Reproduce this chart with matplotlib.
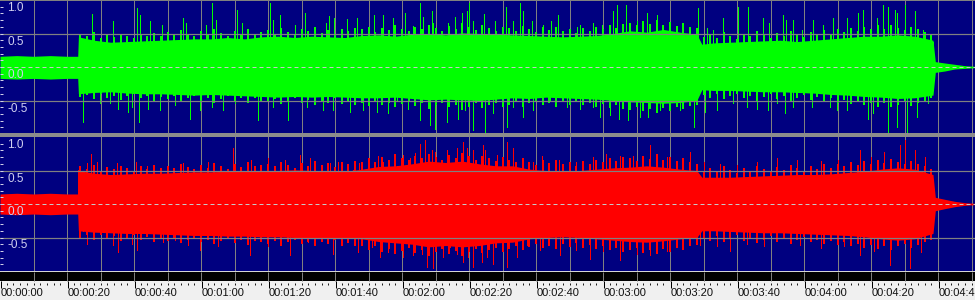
import matplotlib
matplotlib.use("Agg")
import matplotlib.pyplot as plt
import numpy as np

# ---- data (seconds / normalised amplitude) ----
body_t = [0, 5, 10, 15, 20, 23.2, 23.4, 28, 33, 38, 43, 48, 53, 58, 63, 68, 73, 78, 83, 88,
          93, 98, 103, 108, 113, 118, 123, 128, 133, 138, 143, 148, 153, 158, 163, 168, 173,
          178, 183, 188, 193, 198, 203, 208, 209.5, 213, 218, 223, 228, 233, 238, 243, 248,
          253, 258, 263, 268, 273, 278.5, 279.2, 282, 285, 288, 291]

left_top = [0.16, 0.17, 0.16, 0.17, 0.16, 0.16, 0.45, 0.40, 0.37, 0.38, 0.39, 0.40, 0.41, 0.42,
            0.42, 0.44, 0.42, 0.45, 0.46, 0.44, 0.46, 0.45, 0.44, 0.47, 0.48, 0.46, 0.49, 0.50,
            0.48, 0.51, 0.50, 0.49, 0.48, 0.47, 0.46, 0.45, 0.46, 0.47, 0.50, 0.54, 0.52, 0.56,
            0.52, 0.49, 0.34, 0.36, 0.37, 0.38, 0.39, 0.40, 0.38, 0.40, 0.42, 0.44, 0.46, 0.46,
            0.48, 0.46, 0.40, 0.08, 0.06, 0.04, 0.02, 0.01]
left_bot = [-0.17, -0.18, -0.17, -0.18, -0.17, -0.17, -0.40, -0.38, -0.37, -0.39, -0.40, -0.40,
            -0.41, -0.42, -0.41, -0.42, -0.43, -0.44, -0.45, -0.44, -0.45, -0.44, -0.45, -0.46,
            -0.46, -0.45, -0.47, -0.49, -0.48, -0.49, -0.50, -0.48, -0.46, -0.47, -0.45, -0.46,
            -0.47, -0.48, -0.50, -0.52, -0.53, -0.54, -0.53, -0.50, -0.34, -0.35, -0.35, -0.36,
            -0.37, -0.37, -0.38, -0.39, -0.41, -0.42, -0.44, -0.45, -0.47, -0.46, -0.42, -0.08,
            -0.06, -0.03, -0.02, -0.01]

right_top = [0.15, 0.16, 0.15, 0.16, 0.15, 0.15, 0.50, 0.46, 0.44, 0.45, 0.46, 0.46, 0.47, 0.48,
             0.48, 0.49, 0.49, 0.50, 0.50, 0.51, 0.50, 0.49, 0.49, 0.52, 0.56, 0.57, 0.60, 0.64,
             0.62, 0.64, 0.60, 0.57, 0.57, 0.52, 0.50, 0.49, 0.50, 0.52, 0.54, 0.55, 0.57, 0.55,
             0.52, 0.50, 0.40, 0.40, 0.40, 0.41, 0.42, 0.43, 0.44, 0.44, 0.45, 0.47, 0.49, 0.52,
             0.54, 0.52, 0.44, 0.10, 0.07, 0.04, 0.02, 0.01]
right_bot = [-0.15, -0.16, -0.15, -0.16, -0.15, -0.15, -0.40, -0.42, -0.43, -0.44, -0.44, -0.45,
             -0.46, -0.47, -0.47, -0.48, -0.48, -0.49, -0.49, -0.50, -0.50, -0.50, -0.51, -0.52,
             -0.56, -0.58, -0.60, -0.64, -0.62, -0.64, -0.62, -0.58, -0.57, -0.52, -0.50, -0.49,
             -0.50, -0.52, -0.54, -0.56, -0.57, -0.55, -0.52, -0.50, -0.40, -0.40, -0.41, -0.42,
             -0.43, -0.43, -0.44, -0.45, -0.46, -0.47, -0.49, -0.52, -0.54, -0.52, -0.44, -0.10,
             -0.07, -0.04, -0.02, -0.01]

# column heights just above the dense body, every 2 s from 0:24 to 4:38
col_t = list(range(24, 279, 2))
left_col_up = [0.50, 0.46, 0.52, 0.44, 0.48, 0.45, 0.50, 0.47, 0.43, 0.49, 0.46, 0.51, 0.47,
               0.52, 0.48, 0.55, 0.50, 0.46, 0.53, 0.49, 0.56, 0.51, 0.47, 0.54, 0.50, 0.57, 0.49, 0.52,
               0.55, 0.50, 0.58, 0.52, 0.48, 0.56, 0.53, 0.60, 0.51, 0.55, 0.49, 0.57, 0.54, 0.58,
               0.56, 0.60, 0.52, 0.58, 0.55, 0.62, 0.57, 0.53, 0.60, 0.56, 0.63, 0.58, 0.54, 0.61, 0.57,
               0.65, 0.60, 0.55, 0.62, 0.58, 0.54, 0.60,
               0.58, 0.54, 0.61, 0.56, 0.52, 0.59, 0.55, 0.60, 0.53, 0.57, 0.51, 0.58, 0.54, 0.60, 0.56,
               0.62, 0.58, 0.64,
               0.66, 0.62, 0.68, 0.64, 0.70, 0.63, 0.67, 0.61, 0.65, 0.60, 0.58,
               0.45, 0.50, 0.44, 0.52, 0.47, 0.42, 0.50, 0.46, 0.53, 0.48, 0.44, 0.51, 0.47, 0.54, 0.49,
               0.45, 0.52, 0.48, 0.55, 0.50,
               0.56, 0.52, 0.58, 0.54, 0.60, 0.56, 0.62, 0.57, 0.63, 0.58, 0.55, 0.60, 0.56, 0.52, 0.48]
left_col_dn = [-0.45, -0.42, -0.48, -0.40, -0.46, -0.43, -0.49, -0.44, -0.41, -0.47, -0.43, -0.50, -0.45,
               -0.48, -0.44, -0.51, -0.46, -0.43, -0.50, -0.47, -0.53, -0.48, -0.44, -0.51, -0.46, -0.54,
               -0.47, -0.50,
               -0.52, -0.48, -0.55, -0.50, -0.46, -0.53, -0.49, -0.56, -0.50, -0.53, -0.47, -0.55, -0.51, -0.56,
               -0.54, -0.58, -0.51, -0.56, -0.53, -0.60, -0.55, -0.52, -0.58, -0.54, -0.62, -0.57, -0.53,
               -0.60, -0.56, -0.64, -0.59, -0.54, -0.61, -0.57, -0.53, -0.59,
               -0.56, -0.52, -0.59, -0.54, -0.50, -0.57, -0.53, -0.59, -0.52, -0.56, -0.50, -0.57, -0.53,
               -0.60, -0.55, -0.61, -0.57, -0.63,
               -0.64, -0.60, -0.66, -0.62, -0.68, -0.61, -0.65, -0.59, -0.63, -0.58, -0.56,
               -0.42, -0.46, -0.40, -0.48, -0.44, -0.40, -0.47, -0.43, -0.50, -0.45, -0.41, -0.48, -0.44,
               -0.51, -0.46, -0.42, -0.49, -0.45, -0.52, -0.47,
               -0.53, -0.49, -0.55, -0.51, -0.57, -0.53, -0.59, -0.54, -0.60, -0.56, -0.52, -0.58, -0.54,
               -0.50, -0.46]
right_col_up = [0.56, 0.52, 0.58, 0.50, 0.55, 0.52, 0.57, 0.53, 0.50, 0.56, 0.52, 0.58, 0.54,
                0.57, 0.53, 0.60, 0.55, 0.52, 0.58, 0.54, 0.61, 0.56, 0.52, 0.59, 0.55, 0.62, 0.56, 0.58,
                0.60, 0.56, 0.63, 0.58, 0.54, 0.61, 0.57, 0.64, 0.58, 0.61, 0.55, 0.63, 0.59, 0.64,
                0.63, 0.68, 0.62, 0.70, 0.66, 0.74, 0.69, 0.65, 0.72, 0.68, 0.75, 0.70, 0.66, 0.73, 0.69,
                0.76, 0.71, 0.66, 0.72, 0.68, 0.64, 0.70,
                0.66, 0.62, 0.68, 0.63, 0.58, 0.65, 0.61, 0.66, 0.59, 0.63, 0.57, 0.64, 0.60, 0.66, 0.62,
                0.68, 0.64, 0.70,
                0.68, 0.64, 0.72, 0.67, 0.74, 0.66, 0.70, 0.64, 0.68, 0.62, 0.60,
                0.50, 0.54, 0.48, 0.56, 0.51, 0.47, 0.54, 0.50, 0.57, 0.52, 0.48, 0.55, 0.51, 0.58, 0.53,
                0.49, 0.56, 0.52, 0.59, 0.54,
                0.60, 0.56, 0.62, 0.58, 0.64, 0.60, 0.66, 0.61, 0.67, 0.62, 0.59, 0.64, 0.60, 0.56, 0.52]
right_col_dn = [-0.50, -0.47, -0.54, -0.46, -0.52, -0.48, -0.55, -0.50, -0.47, -0.53, -0.49, -0.56, -0.51,
                -0.55, -0.51, -0.58, -0.53, -0.50, -0.57, -0.53, -0.60, -0.55, -0.51, -0.58, -0.53, -0.61,
                -0.55, -0.57,
                -0.59, -0.55, -0.62, -0.57, -0.53, -0.60, -0.56, -0.63, -0.57, -0.60, -0.54, -0.62, -0.58,
                -0.63,
                -0.63, -0.69, -0.62, -0.71, -0.67, -0.75, -0.70, -0.66, -0.73, -0.69, -0.77, -0.71, -0.67,
                -0.74, -0.70, -0.78, -0.72, -0.67, -0.73, -0.69, -0.65, -0.71,
                -0.67, -0.62, -0.69, -0.64, -0.59, -0.66, -0.62, -0.67, -0.60, -0.64, -0.58, -0.65, -0.61,
                -0.67, -0.63, -0.69, -0.65, -0.71,
                -0.69, -0.65, -0.73, -0.68, -0.75, -0.67, -0.71, -0.65, -0.69, -0.63, -0.61,
                -0.50, -0.55, -0.48, -0.57, -0.52, -0.47, -0.55, -0.51, -0.58, -0.53, -0.48, -0.56, -0.52,
                -0.59, -0.54, -0.49, -0.57, -0.53, -0.60, -0.55,
                -0.61, -0.57, -0.63, -0.59, -0.65, -0.61, -0.67, -0.62, -0.68, -0.63, -0.60, -0.65, -0.61,
                -0.57, -0.53]

# isolated peaks (time, amplitude)
left_peaks_up = [(27.4, 0.79), (33.8, 0.68), (41.0, 0.88), (41.8, 0.78), (44.8, 0.68), (48.3, 0.63),
                 (54.7, 0.73), (55.5, 0.65), (61.5, 0.63), (63.4, 0.95), (64.5, 0.70), (70.6, 0.85),
                 (72.1, 0.65), (80.6, 0.95), (81.4, 0.70), (83.6, 0.78), (88.1, 0.63), (91.0, 0.80),
                 (97.3, 0.66), (98.3, 0.76), (99.7, 0.73), (103.5, 0.71), (106.5, 0.73), (111.7, 0.78),
                 (114.2, 0.78), (117.4, 0.73), (120.9, 0.80), (123.4, 0.61), (125.4, 0.95), (126.4, 0.75),
                 (128.9, 0.83), (129.4, 0.65), (133.8, 0.66), (135.8, 0.74), (137.8, 0.80), (139.3, 0.83),
                 (140.1, 0.95), (141.3, 0.68), (144.5, 0.79), (147.8, 0.69), (151.0, 0.90), (153.0, 0.68),
                 (155.2, 0.95), (156.0, 0.83), (158.7, 0.68), (162.2, 0.63), (164.5, 0.68), (166.7, 0.78),
                 (172.1, 0.60), (173.1, 0.63), (177.1, 0.65), (179.6, 0.63), (183.1, 0.83), (184.1, 0.93),
                 (186.9, 0.93), (190.0, 0.68), (193.2, 0.80), (196.0, 0.78), (198.0, 0.60), (208.3, 0.88),
                 (210.9, 0.58), (212.9, 0.55), (215.9, 0.73), (220.4, 0.90), (223.4, 0.90), (227.9, 0.73),
                 (229.6, 0.65), (233.8, 0.78), (234.6, 0.70), (236.8, 0.70), (239.3, 0.55), (242.8, 0.70),
                 (245.6, 0.63), (248.8, 0.73), (252.9, 0.73), (256.2, 0.80), (257.7, 0.85), (261.7, 0.73),
                 (263.7, 0.93), (265.2, 0.90), (267.2, 0.85), (267.7, 0.80), (270.1, 0.93), (273.1, 0.83),
                 (275.6, 0.55), (278.6, 0.38)]
left_peaks_dn = [(24.9, -0.82), (29.9, -0.54), (32.8, -0.54), (35.3, -0.62), (38.3, -0.67), (39.3, -0.59),
                 (41.6, -0.82), (44.3, -0.62), (47.8, -0.64), (52.2, -0.57), (56.7, -0.77), (59.7, -0.64),
                 (63.2, -0.59), (66.7, -0.64), (70.1, -0.54), (77.1, -0.79), (81.6, -0.59), (86.1, -0.79),
                 (91.5, -0.59), (96.5, -0.64), (99.5, -0.64), (104.5, -0.67), (108.5, -0.64), (112.4, -0.67),
                 (115.9, -0.69), (118.4, -0.49), (121.9, -0.62), (125.4, -0.79), (128.4, -0.87), (129.9, -0.92),
                 (133.3, -0.82), (136.8, -0.77), (138.8, -0.64), (141.3, -0.94), (144.8, -0.97), (147.3, -0.69),
                 (151.2, -0.89), (153.2, -0.59), (156.0, -0.74), (159.0, -0.64), (164.2, -0.49), (169.2, -0.59),
                 (173.1, -0.62), (177.1, -0.59), (179.1, -0.74), (182.1, -0.72), (184.9, -0.77), (187.6, -0.79),
                 (191.0, -0.74), (193.5, -0.74), (197.0, -0.64), (203.0, -0.64), (207.3, -0.89), (210.4, -0.67),
                 (213.9, -0.64), (218.9, -0.54), (222.9, -0.59), (225.9, -0.62), (229.4, -0.64), (231.8, -0.54),
                 (234.3, -0.69), (236.8, -0.59), (242.3, -0.59), (247.8, -0.59), (249.8, -0.64), (252.7, -0.64),
                 (259.2, -0.77), (260.7, -0.69), (265.2, -0.97), (267.7, -0.89), (270.7, -0.97), (273.6, -0.74),
                 (277.1, -0.54)]

right_peaks_up = [(23.4, 0.51), (25.9, 0.61), (27.1, 0.75), (28.9, 0.63), (34.8, 0.61), (40.6, 0.63),
                  (43.8, 0.56), (54.7, 0.61), (62.0, 0.62), (69.6, 0.84), (75.0, 0.65), (80.0, 0.68),
                  (85.0, 0.66), (89.6, 0.73), (92.5, 0.68), (98.5, 0.61), (101.0, 0.63), (105.5, 0.51),
                  (107.3, 0.61), (108.0, 0.63), (112.9, 0.71), (114.4, 0.63), (118.4, 0.56), (120.4, 0.73),
                  (122.4, 0.68), (123.9, 0.76), (125.4, 0.90), (126.9, 0.95), (128.9, 0.80), (129.9, 0.78),
                  (133.3, 0.80), (136.3, 0.83), (138.1, 0.93), (139.3, 0.83), (141.3, 0.80), (144.1, 0.88),
                  (144.8, 0.80), (148.3, 0.73), (151.2, 0.93), (153.2, 0.83), (156.2, 0.61), (159.2, 0.63),
                  (161.7, 0.71), (163.7, 0.61), (167.0, 0.66), (172.0, 0.62), (177.0, 0.70), (181.0, 0.74),
                  (185.0, 0.72), (189.0, 0.72), (194.0, 0.88), (199.0, 0.70), (206.0, 0.78), (210.0, 0.62),
                  (215.0, 0.60), (220.0, 0.58), (226.0, 0.62), (232.0, 0.69), (238.0, 0.65), (245.0, 0.64),
                  (250.0, 0.66), (256.7, 0.80), (260.0, 0.70), (264.0, 0.78), (268.7, 0.88), (270.1, 0.95),
                  (273.1, 0.80), (276.0, 0.70)]
right_peaks_dn = [(24.9, -0.41), (26.1, -0.59), (33.8, -0.61), (35.3, -0.71), (39.3, -0.59), (40.8, -0.69),
                  (44.8, -0.44), (48.7, -0.56), (52.2, -0.54), (56.2, -0.61), (59.7, -0.69), (65.0, -0.62),
                  (74.6, -0.76), (80.0, -0.63), (86.6, -0.76), (92.0, -0.56), (99.5, -0.74), (102.5, -0.49),
                  (107.0, -0.71), (110.9, -0.64), (113.4, -0.79), (115.9, -0.71), (118.4, -0.56), (120.4, -0.79),
                  (123.4, -0.76), (125.9, -0.74), (127.4, -0.94), (129.4, -0.96), (132.3, -0.79), (134.3, -0.64),
                  (136.3, -0.74), (138.3, -0.86), (139.8, -0.79), (141.3, -0.94), (143.8, -0.86), (145.3, -0.79),
                  (147.3, -0.89), (150.2, -0.61), (151.2, -0.94), (154.2, -0.79), (157.2, -0.61), (161.2, -0.69),
                  (163.7, -0.59), (167.2, -0.76), (172.0, -0.68), (176.1, -0.82), (180.0, -0.70), (185.1, -0.84),
                  (190.0, -0.75), (194.0, -0.76), (199.0, -0.70), (209.0, -0.61), (214.0, -0.62), (218.0, -0.70),
                  (223.0, -0.60), (228.0, -0.62), (238.8, -0.61), (245.0, -0.66), (252.0, -0.63), (256.7, -0.76),
                  (261.0, -0.70), (265.7, -0.91), (271.6, -0.96), (275.0, -0.72)]

amp_labels = ["1.0", "0.5", "0.0", "-0.5"]
amp_values = [1.0, 0.5, 0.0, -0.5]

T_END = 975 / 3.35   # seconds visible across the window
NAVY = "#000080"
GRID = "#808080"
PX = 0.72            # one pixel in points at 100 dpi


def draw_channel(ax, top, bot, col_up, col_dn, peaks_up, peaks_dn, color, ymin):
    ax.set_facecolor(NAVY)
    ax.set_xlim(0, T_END)
    ax.set_ylim(ymin, 1.0)
    for t in np.arange(10, T_END, 10):
        ax.axvline(t, color=GRID, lw=PX, zorder=1)
    ax.fill_between(body_t, bot, top, color=color, lw=0, zorder=2)
    ax.vlines(col_t, 0, col_up, color=color, lw=PX * 2, antialiased=False, zorder=2)
    ax.vlines(col_t, 0, col_dn, color=color, lw=PX * 2, antialiased=False, zorder=2)
    for pk in (peaks_up, peaks_dn):
        ts = [p[0] for p in pk]
        vs = [p[1] for p in pk]
        ax.vlines(ts, 0, vs, color=color, lw=PX, antialiased=False, zorder=2)
    for v in (0.5, -0.5):
        ax.axhline(v, color=GRID, lw=PX * 1.2, zorder=3)
    ax.axhline(0, color="#c8c8c8", lw=PX, dashes=(4, 3), zorder=4)
    # little ticks on the left edge
    for v in np.arange(-0.9, 1.0, 0.1):
        ax.plot([0, 0.9], [v, v], color="#d0d0e8", lw=PX, zorder=5, solid_capstyle="butt")
    for lab, v in zip(amp_labels, amp_values):
        ax.annotate(lab, xy=(0, v), xycoords="data", xytext=(7, -2), textcoords="offset pixels",
                    ha="left", va="top", fontsize=8.5, family="Liberation Sans",
                    color="#d0d0f0", zorder=6)
    ax.set_xticks([])
    ax.set_yticks([])
    for s in ax.spines.values():
        s.set_visible(False)


fig = plt.figure(figsize=(9.75, 3.0), dpi=100)
fig.patch.set_facecolor("#8c8c8c")

H = 300.0
ax_l = fig.add_axes([0, 1 - 133 / H, 1, 133 / H])
ax_r = fig.add_axes([0, 1 - 271 / H, 1, 134 / H])
draw_channel(ax_l, left_top, left_bot, left_col_up, left_col_dn, left_peaks_up, left_peaks_dn,
             "#00ff00", -0.985)
draw_channel(ax_r, right_top, right_bot, right_col_up, right_col_dn, right_peaks_up, right_peaks_dn,
             "#ff0000", -1.0)
ax_l.axhline(1.0, color=GRID, lw=PX * 2, zorder=3)

# time ruler
ax_t = fig.add_axes([0, 0, 1, 29 / H])
ax_t.set_xlim(0, T_END)
ax_t.set_ylim(29, 0)
ax_t.axhspan(0, 1, color="#d4d4d4", lw=0)
ax_t.axhspan(1, 10, color="black", lw=0)
ax_t.axhspan(10, 29, color="#f0f0f0", lw=0)
ax_t.vlines(np.arange(10, T_END, 10), 1, 10, color=GRID, lw=PX)
ax_t.vlines(np.arange(0, T_END, 20) + 0.15, 10, 17, color="black", lw=PX)
minor = [m for m in np.arange(2, T_END, 2) if m % 20 != 0]
ax_t.vlines(minor, 12, 13.6, color="#202020", lw=PX)
for t in np.arange(0, T_END, 20):
    m, s = divmod(int(t), 60)
    ax_t.text(t + 0.3, 22.5, f"00:{m:02d}:{s:02d}", ha="left", va="center", fontsize=8,
              family="Liberation Sans", color="#101010", clip_on=True)
ax_t.set_xticks([])
ax_t.set_yticks([])
for s in ax_t.spines.values():
    s.set_visible(False)

fig.savefig("out.png", dpi=100, facecolor=fig.get_facecolor())
